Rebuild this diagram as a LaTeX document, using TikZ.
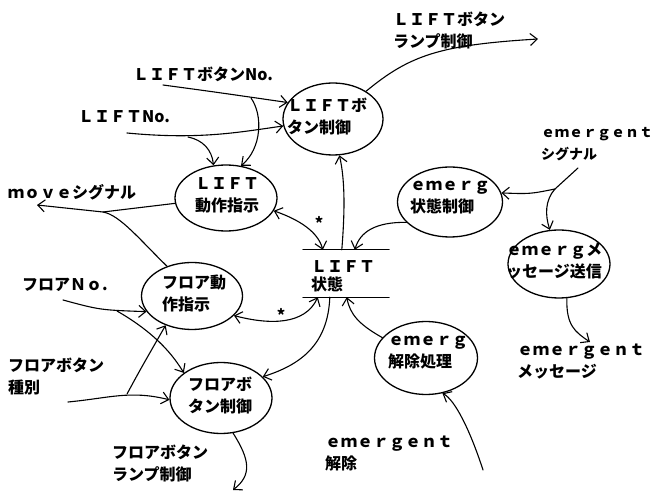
\documentclass[tikz,border=0pt]{standalone}
\usepackage{fontspec}
\setmainfont{Noto Sans CJK JP}
\usetikzlibrary{shapes.geometric,arrows.meta,calc}
\begin{document}
\begin{tikzpicture}[x=1pt,y=-1pt,
  ell/.style={draw,ellipse,line width=1.3pt,inner sep=0pt},
  txt/.style={anchor=west,align=left,inner sep=0pt,font=\fontsize{16}{22}\selectfont\bfseries},
  ctxt/.style={txt,anchor=center,align=center},
  ln/.style={line width=1.1pt,line cap=round},
  arr/.style={ln,-{Straight Barb[length=7pt,width=12pt]}},
  darr/.style={ln,{Straight Barb[length=7pt,width=12pt]}-{Straight Barb[length=7pt,width=12pt]}},
  star/.style={inner sep=0pt,font=\fontsize{16}{16}\selectfont\bfseries},
]
\useasboundingbox (0,0) rectangle (665,497);

% ---- processes (ellipses)
\node[ell,minimum width=100pt,minimum height=72pt] (lbc) at (333,119) {};
\node[ell,minimum width=102pt,minimum height=66pt] (ldo) at (226,198) {};
\node[ell,minimum width=105pt,minimum height=70pt] (esc) at (450,202) {};
\node[ell,minimum width=102pt,minimum height=68pt] (ems) at (559,264) {};
\node[ell,minimum width=101pt,minimum height=67pt] (fdo) at (192,296) {};
\node[ell,minimum width=102pt,minimum height=71pt] (fbc) at (221,398) {};
\node[ell,minimum width=103pt,minimum height=73pt] (erp) at (426,358) {};

% ---- data store
\node[minimum width=86pt,minimum height=47pt,inner sep=0pt] (ls) at (346,273.5) {};
\draw[ln] (ls.north west) -- (ls.north east);
\draw[ln] (ls.south west) -- (ls.south east);

% ---- texts inside
\node[txt] (lbct) at (287,116.5) {ＬＩＦＴボ\\タン制御};
\node[ctxt] (ldot) at (227,195.5) {ＬＩＦＴ\\動作指示};
\node[txt] (esct) at (410,197.5) {ｅｍｅｒｇ\\状態制御};
\node[txt,font=\fontsize{16}{18}\selectfont\bfseries] (lst) at (311,276) {ＬＩＦＴ\\状態};
\node[txt] (emst) at (506,261) {ｅｍｅｒｇメ\\ッセージ送信};
\node[txt] (fdot) at (162,293) {フロア動\\作指示};
\node[txt] (fbct) at (188,395) {フロアボ\\タン制御};
\node[txt] (erpt) at (388,353) {ｅｍｅｒｇ\\解除処理};

% ---- external labels
\node[txt] (tlamp) at (393,30) {ＬＩＦＴボタン\\ランプ制御};
\node[txt] (tlbn) at (133,74) {ＬＩＦＴボタンNo.};
\node[txt] (tln) at (78,117) {ＬＩＦＴNo.};
\node[txt,font=\fontsize{14}{22}\selectfont\bfseries] (tesig) at (541,144) {ｅｍｅｒｇｅｎｔ\\シグナル};
\node[txt] (tmove) at (8,192) {ｍｏｖｅシグナル};
\node[txt] (tfn) at (22,285) {フロアＮｏ.};
\node[txt] (temsg) at (517,362) {ｅｍｅｒｇｅｎｔ\\メッセージ};
\node[txt] (tfbk) at (8,376.5) {フロアボタン\\種別};
\node[txt] (tekj) at (325,453.5) {ｅｍｅｒｇｅｎｔ\\解除};
\node[txt] (tflamp) at (112,463) {フロアボタン\\ランプ制御};

\node[star] (st1) at (319,223) {*};
\node[star] (st2) at (281,315) {*};

% ---- free ends and junctions
\coordinate (s1) at (163,85);
\coordinate (j1) at (251,98);
\coordinate (s2) at (127,133);
\coordinate (j2) at (188,137);
\coordinate (j3) at (103,212);
\coordinate (e3) at (37,205);
\coordinate (e7) at (538,39);
\coordinate (s8) at (578,168);
\coordinate (j8) at (555,189);
\coordinate (e9) at (590,342);
\coordinate (s11) at (483,470);
\coordinate (s14) at (63,300);
\coordinate (j14) at (117,311);
\coordinate (s15) at (68,402);
\coordinate (j15) at (127,394);
\coordinate (e16) at (233,490);

% ---- connectors
\draw[arr] (s1) .. controls (215,92) .. (lbc.160);
\draw[arr] (j1) .. controls (263,115) and (262,148) .. (ldo.65);
\draw[arr] (s2) .. controls (200,140) and (240,132) .. (lbc.188);
\draw[arr] (j2) .. controls (203,140) and (212,150) .. (ldo.111);
\draw[arr] (ldo.186) -- (j3) -- (e3);
\draw[ln] (fdo.130) .. controls (140,240) and (120,215) .. (j3);
\draw[darr] (ldo.345) .. controls (300,220) and (318,232) .. ($(ls.north west)+(20,0)$);
\draw[arr] ($(ls.north west)+(39,0)$) .. controls (345,210) and (345,180) .. (lbc.280);
\draw[arr] (esc.205) .. controls (375,222) and (360,232) .. ($(ls.north west)+(52,0)$);
\draw[arr] (lbc.40) .. controls (410,55) and (440,45) .. (e7);
\draw[ln] (s8) -- (j8);
\draw[arr] (j8) .. controls (530,194) .. (esc.10);
\draw[arr] (j8) .. controls (545,200) and (545,215) .. (ems.105);
\draw[arr] (ems.283) .. controls (566,325) and (575,332) .. (e9);
\draw[arr] (erp.155) .. controls (360,325) and (350,315) .. ($(ls.south west)+(44,0)$);
\draw[arr] (s11) .. controls (470,430) and (455,400) .. (erp.295);
\draw[arr] ($(ls.south west)+(27,0)$) .. controls (328,345) and (300,365) .. (fbc.27);
\draw[darr] (fdo.335) .. controls (270,325) and (305,325) .. ($(ls.south west)+(15,0)$);
\draw[arr] (s14) .. controls (100,310) .. (fdo.199);
\draw[arr] (j14) .. controls (150,330) and (170,350) .. (fbc.146);
\draw[arr] (s15) .. controls (110,398) and (130,390) .. (fbc.182);
\draw[arr] (j15) .. controls (140,370) .. (fdo.228);
\draw[arr] (fbc.289) .. controls (250,460) and (252,475) .. (e16);
\end{tikzpicture}
\end{document}
